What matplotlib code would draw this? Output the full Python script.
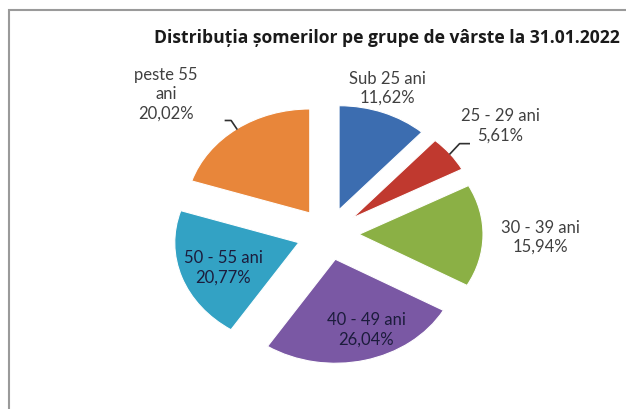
import matplotlib.pyplot as plt
import numpy as np

plt.rcParams['font.family'] = ['Lato', 'DejaVu Sans']

groups = ['Sub 25 ani', '25 - 29 ani', '30 - 39 ani', '40 - 49 ani', '50 - 55 ani', 'peste 55\nani']
shares = [11.62, 5.61, 15.94, 26.04, 20.77, 20.02]
colors = ['#3c6db0', '#c0392f', '#8bb045', '#7a58a4', '#33a2c4', '#e8863a']

# label placement (distance from centre, angle tweak in degrees, inside?)
label_r = [1.49, 1.74, 1.71, 0.96, 0.90, 1.88]
label_dt = [2, -1, 0, 5, 1, 8]
inside = [False, False, False, True, True, False]
leader = [False, True, False, False, False, True]

W, H = 626, 410
cx, cy, rx, ry = 328, 235, 124, 104
explode = 0.25

fig = plt.figure(figsize=(W / 100, H / 100), dpi=100)
ax = fig.add_axes([0, 0, 1, 1])

wedges, _ = ax.pie(shares, colors=colors, startangle=90, counterclock=False,
                   explode=[explode] * len(shares),
                   wedgeprops=dict(edgecolor='white', linewidth=0.8))
ax.set_aspect('auto')
ax.set_xlim(-cx / rx, (W - cx) / rx)
ax.set_ylim((cy - H) / ry, cy / ry)
ax.axis('off')

for w, g, s, r, dt, ins, ld in zip(wedges, groups, shares, label_r, label_dt, inside, leader):
    mid = np.deg2rad((w.theta1 + w.theta2) / 2)
    ang = mid + np.deg2rad(dt)
    tx, ty = r * np.cos(ang), r * np.sin(ang)
    txt = f'{g}\n{s:.2f}%'.replace('.', ',')
    col = '#1c1c3c' if ins else '#404040'
    ax.text(tx, ty, txt, ha='center', va='center', fontsize=12,
            color=col, linespacing=1.25)
    if ld:
        px, py = (1 + explode) * np.cos(mid), (1 + explode) * np.sin(mid)
        if np.cos(mid) > 0:
            ex, ey = tx - 0.25, ty - 0.18
        else:
            ex, ey = tx + 0.48, ty - 0.26
        ax.plot([px, (px + ex) / 2, ex], [py, ey, ey], color='#303030', lw=1.2)

fig.text(387 / W, 1 - 38 / H,
         'Distribuția șomerilor pe grupe de vârste la 31.01.2022',
         family=['Open Sans', 'DejaVu Sans'],
         ha='center', va='center', fontsize=12.6, fontweight='bold', color='#1a1a1a')

fig.add_artist(plt.Rectangle((9 / W, -0.1), 1.2, (H - 11) / H + 0.1,
                             transform=fig.transFigure, fill=False,
                             ec='#9a9a9a', lw=1.5))

fig.savefig('out.png', dpi=100)
